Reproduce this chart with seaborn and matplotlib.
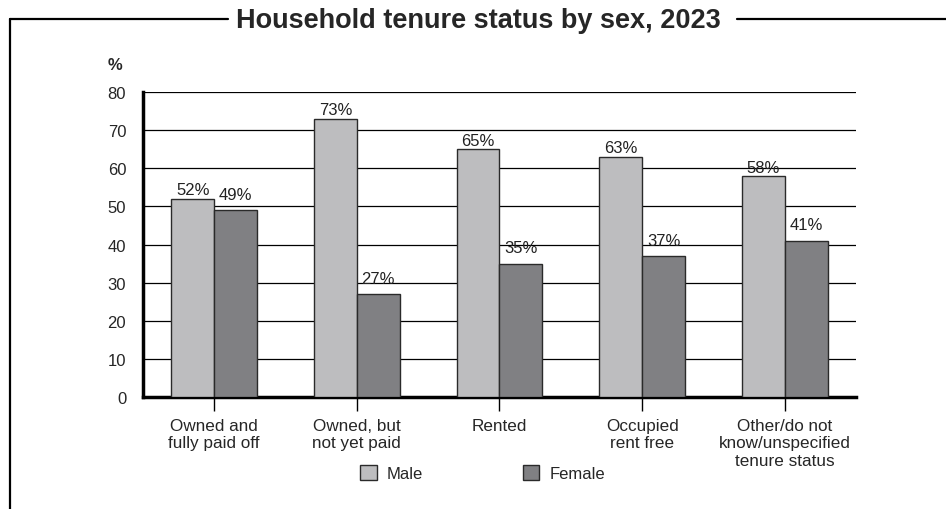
import os
import pandas as pd
import matplotlib.pyplot as plt
import seaborn as sns
from matplotlib.lines import Line2D
from matplotlib import font_manager as fm

# Data
categories = ["Owned and\nfully paid off", "Owned, but\nnot yet paid", "Rented",
              "Occupied\nrent free", "Other/do not\nknow/unspecified\ntenure status"]
male = [52, 73, 65, 63, 58]
female = [49, 27, 35, 37, 41]

df = pd.DataFrame({
    "status": categories * 2,
    "pct": male + female,
    "sex": ["Male"] * len(categories) + ["Female"] * len(categories),
})

sns.set_style("white")
plt.rcParams['font.family'] = ['Liberation Sans', 'DejaVu Sans']

# pick the regular-width bold file for the title (avoid the Narrow variant)
bold_file = None
for f in fm.fontManager.ttflist:
    if os.path.basename(f.fname) == "LiberationSans-Bold.ttf":
        bold_file = f.fname
        break
if bold_file:
    title_font = fm.FontProperties(fname=bold_file, size=19.5)
else:
    title_font = fm.FontProperties(family="DejaVu Sans", weight="bold", size=17)

fig = plt.figure(figsize=(9.46, 5.10), dpi=100)
ax = fig.add_axes([0.151, 0.2196, 0.754, 0.598])

sns.barplot(data=df, x="status", y="pct", hue="sex", ax=ax,
            palette=["#bdbdbf", "#808083"], width=0.6,
            edgecolor="#2a2a2a", linewidth=1, saturation=1, zorder=3)

for cont, pad in zip(ax.containers, [1, 6]):
    ax.bar_label(cont, fmt="%d%%", padding=pad, fontsize=12, color="#222222")

ax.set_ylim(0, 80)
ax.set_xlim(-0.5, 4.5)
ax.set_yticks(range(0, 81, 10))
ax.yaxis.grid(True, color="black", linewidth=0.9, zorder=0)
ax.set_axisbelow(True)
ax.set_xlabel("")
ax.set_ylabel("")
ax.tick_params(axis="y", length=0, labelsize=12, pad=12)
ax.tick_params(axis="x", length=10, width=1, color="black", labelsize=12.3,
               direction="out", bottom=True, pad=5)
for s in ["top", "right"]:
    ax.spines[s].set_visible(False)
ax.spines["left"].set_linewidth(2.5)
ax.spines["bottom"].set_linewidth(2.5)
ax.spines["left"].set_color("black")
ax.spines["bottom"].set_color("black")

ax.text(-0.05, 1.09, "%", transform=ax.transAxes, fontsize=12, fontweight="bold",
        ha="left", va="center")

ax.legend_.remove()
handles, labels = ax.get_legend_handles_labels()
fig.legend(handles, labels, loc="center", bbox_to_anchor=(0.51, 0.07), ncol=2,
           frameon=False, handlelength=1.0, handleheight=1.0, columnspacing=6.0,
           fontsize=12, handletextpad=0.6)

# frame around the chart
fig.add_artist(Line2D([0.0106, 0.0106], [0.0, 0.961], color="black", linewidth=1.6))
fig.add_artist(Line2D([0.0106, 0.241], [0.961, 0.961], color="black", linewidth=1.6))
fig.add_artist(Line2D([0.779, 1.0], [0.961, 0.961], color="black", linewidth=1.6))
fig.text(0.506, 0.959, "Household tenure status by sex, 2023", ha="center", va="center",
         fontproperties=title_font)

fig.savefig("out.png", dpi=100)
